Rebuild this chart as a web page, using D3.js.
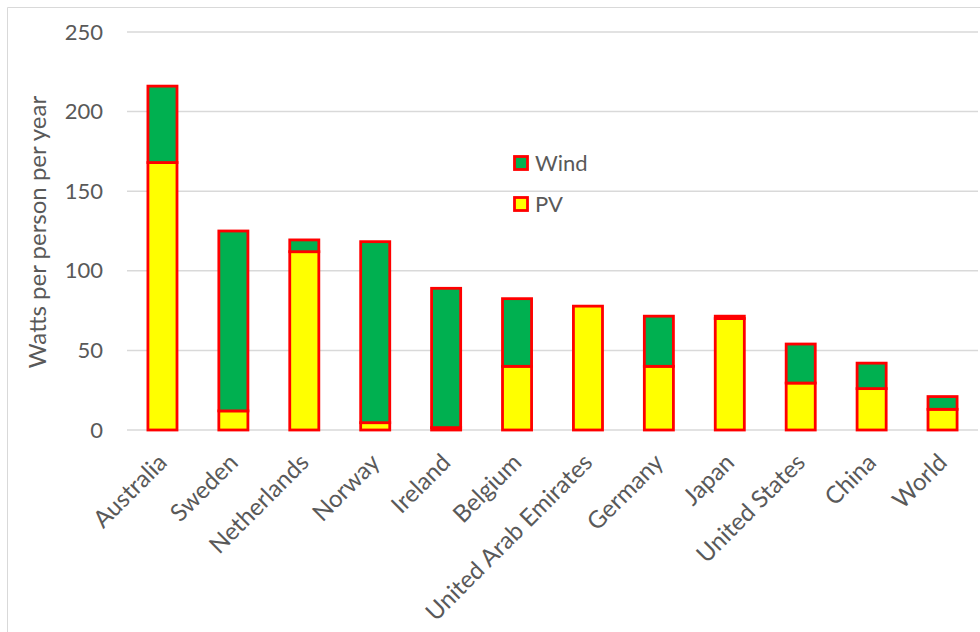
<!DOCTYPE html>
<html><head><meta charset="utf-8">
<script src="https://cdn.jsdelivr.net/npm/d3@7"></script>
<style>body{margin:0;background:#fff}svg{display:block;font-family:Lato,"Open Sans",sans-serif}</style>
</head><body><svg id="c" width="980" height="632"></svg>
<script>
const categories = ["Australia","Sweden","Netherlands","Norway","Ireland","Belgium","United Arab Emirates","Germany","Japan","United States","China","World"];
const pvValues   = [168, 12, 112, 4.6, 1.5, 40, 77.8, 40, 70, 29.5, 26, 13];
const windValues = [48, 113, 7.4, 113.7, 87.5, 42.5, 0, 31.5, 1.5, 24.5, 16, 8];
const yTicks = [0, 50, 100, 150, 200, 250];
const seriesNames = ["Wind", "PV"];
const seriesColors = {Wind: "#00B050", PV: "#FFFF00"};

const svg = d3.select("#c");
const m = {left: 127, right: 2, top: 32, bottom: 202};
const W = 980, H = 632;
// outer chart border
svg.append("path").attr("d", `M7.5,${H} V7.5 H${W}`).attr("fill","none").attr("stroke","#d9d9d9").attr("stroke-width",1);

const x = d3.scaleBand().domain(categories).range([m.left, W - m.right]).paddingInner(0.59).paddingOuter(0.295);
const y = d3.scaleLinear().domain([0, 250]).range([H - m.bottom, m.top]);

// grid
svg.append("g").selectAll("line").data(yTicks).join("line")
  .attr("x1", m.left).attr("x2", W - m.right)
  .attr("y1", d => y(d)).attr("y2", d => y(d))
  .attr("stroke", "#d9d9d9").attr("stroke-width", 1.5);

// y axis labels
const yAxis = d3.axisLeft(y).tickValues(yTicks).tickSize(0).tickPadding(0);
const yg = svg.append("g").attr("transform", `translate(${m.left - 24},0)`).call(yAxis);
yg.select(".domain").remove();
yg.selectAll("text").attr("fill", "#595959").style("font-size", "22px").style("font-family", "Lato,'Open Sans',sans-serif");

// y title
svg.append("text").attr("transform", `translate(46,${(y(0)+y(250))/2 + 1}) rotate(-90)`)
  .attr("text-anchor","middle").attr("fill","#595959").style("font-size","24px").text("Watts per person per year");

// stacked data
const rows = categories.map((c, i) => ({cat: c, PV: pvValues[i], Wind: windValues[i]}));
const stack = d3.stack().keys(["PV", "Wind"])(rows);

svg.append("g").selectAll("g").data(stack).join("g")
  .attr("fill", d => seriesColors[d.key])
  .selectAll("rect").data(d => d).join("rect")
  .attr("x", d => x(d.data.cat)).attr("width", x.bandwidth())
  .attr("y", d => y(d[1])).attr("height", d => y(d[0]) - y(d[1]))
  .attr("stroke", "#FF0000").attr("stroke-width", 2.8);

// x axis labels
const xAxis = d3.axisBottom(x).tickSize(0).tickPadding(0);
const xg = svg.append("g").attr("transform", `translate(0,${y(0)})`).call(xAxis);
xg.select(".domain").remove();
xg.selectAll("text").attr("fill","#595959").style("font-size","24px").style("font-family","Lato,'Open Sans',sans-serif")
  .attr("text-anchor","end").attr("dy", null)
  .attr("transform","translate(6,34) rotate(-45)");

// legend
const lg = svg.append("g").attr("transform","translate(513,155)");
const li = lg.selectAll("g").data(seriesNames).join("g").attr("transform",(d,i)=>`translate(0,${i*41})`);
li.append("rect").attr("x",1.5).attr("y",1.5).attr("width",13).attr("height",13)
  .attr("fill", d => seriesColors[d]).attr("stroke","#FF0000").attr("stroke-width",2.8);
li.append("text").attr("x",22).attr("y",8).attr("dy","0.35em").attr("fill","#595959").style("font-size","22px").text(d=>d);
</script></body></html>
